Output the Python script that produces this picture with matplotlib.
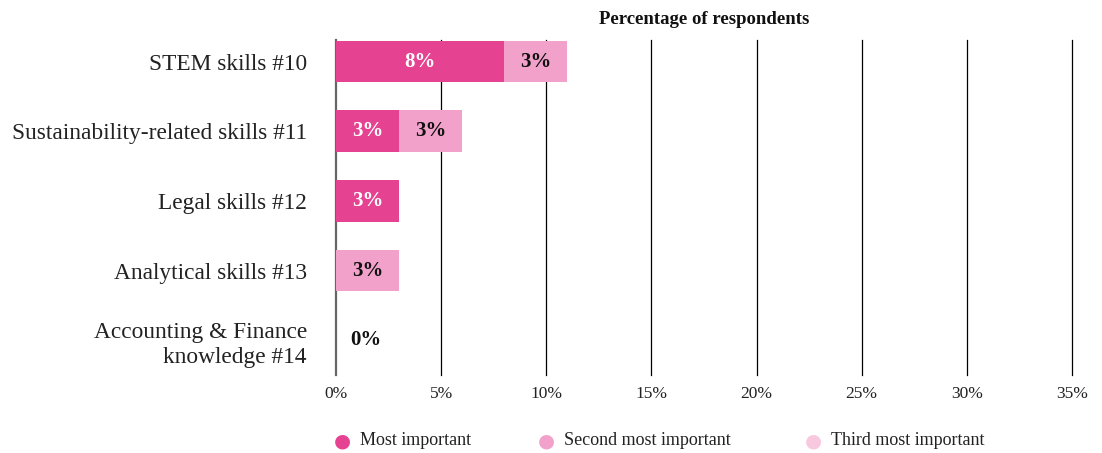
import numpy as np
import matplotlib.pyplot as plt

# Skill ranking data (share of respondents, %)
skills = ["STEM skills #10", "Sustainability-related skills #11", "Legal skills #12",
          "Analytical skills #13", "Accounting & Finance\nknowledge #14"]
most_important = [8, 3, 3, 0, 0]
second_important = [3, 3, 0, 3, 0]
third_important = [0, 0, 0, 0, 0]
series_names = ["Most important", "Second most important", "Third most important"]
colors = ["#E54391", "#F2A2CA", "#F8C8DF"]
label_colors = ["white", "#111111", "#111111"]
xticks = [0, 5, 10, 15, 20, 25, 30, 35]

plt.rcParams['font.family'] = ['Liberation Serif', 'DejaVu Serif']

fig = plt.figure(figsize=(11.02, 4.53), dpi=100)
ax = fig.add_axes([0.3049, 0.1722, 0.6679, 0.7395])

y = np.arange(len(skills))
bar_h = 0.6
left = np.zeros(len(skills))
for vals, name, col, tcol in zip([most_important, second_important, third_important],
                                 series_names, colors, label_colors):
    vals = np.array(vals, dtype=float)
    ax.barh(y, vals, left=left, height=bar_h, color=col, zorder=3, label=name)
    for yi, (l, v) in enumerate(zip(left, vals)):
        if v > 0:
            ax.text(l + v / 2, yi, f"{v:.0f}%", ha="center", va="center",
                    color=tcol, fontsize=15, fontweight="bold", zorder=4)
    left += vals

# rows with nothing recorded still get a 0% label
for yi, total in enumerate(left):
    if total == 0:
        ax.text(1.4, yi, "0%", ha="center", va="center", color="#111111",
                fontsize=15, fontweight="bold", zorder=4)

# vertical grid lines
for xt in xticks:
    if xt == 0:
        ax.axvline(xt, color="#666666", lw=1.6, zorder=2, clip_on=False)
    else:
        ax.axvline(xt, color="black", lw=0.9, zorder=1, clip_on=False)

ax.set_xlim(0, 35)
ax.set_ylim(4.5, -0.31)
ax.set_xticks(xticks)
ax.set_xticklabels([f"{t}%" for t in xticks], fontsize=12.5, color="#222222")
ax.set_yticks(y)
ax.set_yticklabels(skills, fontsize=16.8, color="#222222", linespacing=1.25)
ax.tick_params(axis="both", length=0)
ax.tick_params(axis="x", pad=8)
ax.tick_params(axis="y", pad=21)
for s in ax.spines.values():
    s.set_visible(False)

fig.text(0.639, 0.958, "Percentage of respondents", ha="center", va="center",
         fontsize=13.5, fontweight="bold", color="#111111")

# legend with round markers
legend_x = [0.311, 0.496, 0.738]
for lx, name, col in zip(legend_x, series_names, colors):
    fig.text(lx, 0.027, "\u25CF", ha="center", va="center", fontsize=14,
             color=col, family="DejaVu Sans")
    fig.text(lx + 0.016, 0.027, name, ha="left", va="center", fontsize=13,
             color="#222222")

fig.savefig("out.png", dpi=100)
